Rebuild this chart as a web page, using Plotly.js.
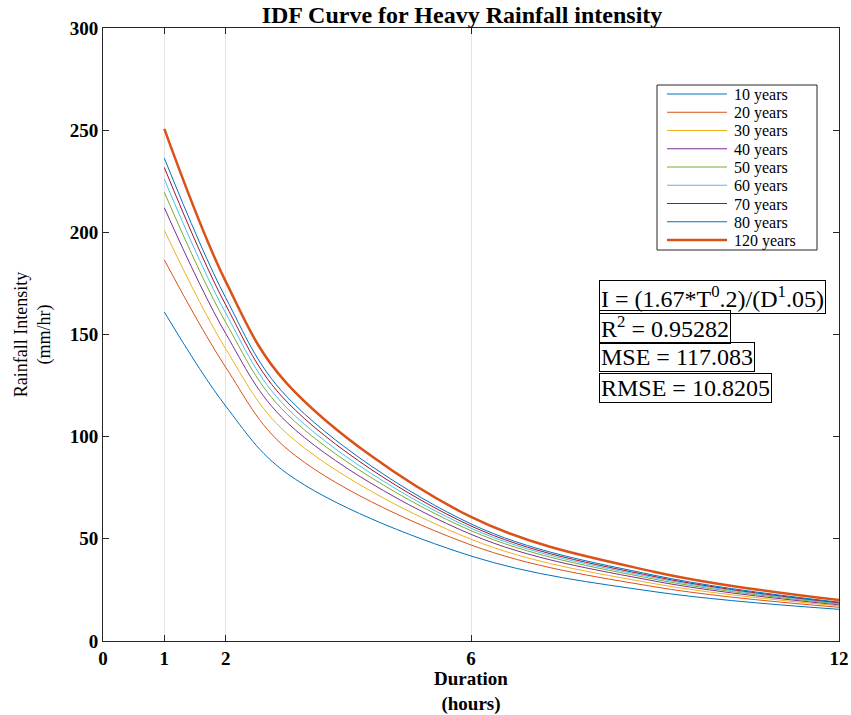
<!DOCTYPE html>
<html>
<head>
<meta charset="utf-8">
<script src="https://cdn.plot.ly/plotly-3.0.1.min.js"></script>
<style>html,body{margin:0;padding:0;background:#fff;}#chart{width:851px;height:715px;}</style>
</head>
<body>
<div id="chart"></div>
<script>
// ---- data ----
const durations = [1, 2, 3, 6, 9, 12];
const seriesNames = ["10 years", "20 years", "30 years", "40 years", "50 years", "60 years", "70 years", "80 years", "120 years"];
const i10  = [161.0, 115.0, 82.0, 41.6, 24.1, 15.5];
const i20  = [186.5, 134.0, 94.0, 47.0, 26.5, 16.5];
const i30  = [201.0, 143.0, 101.5, 49.8, 28.0, 17.2];
const i40  = [212.0, 150.5, 107.0, 52.2, 29.3, 17.7];
const i50  = [219.6, 156.0, 111.0, 54.0, 30.2, 18.1];
const i60  = [226.0, 160.5, 114.0, 55.2, 30.9, 18.4];
const i70  = [231.7, 164.5, 117.0, 56.3, 31.5, 18.7];
const i80  = [236.3, 168.0, 119.5, 57.3, 32.1, 19.0];
const i120 = [250.6, 176.0, 126.0, 60.7, 33.8, 20.0];
const xTicks = [0, 1, 2, 6, 12];
const yTicks = [0, 50, 100, 150, 200, 250, 300];
const statsLines = ["I = (1.67*T<sup>0</sup>.2)/(D<sup>1</sup>.05)", "R<sup>2</sup> = 0.95282", "MSE = 117.083", "RMSE = 10.8205"];

// ---- styles ----
const allSeries = [i10, i20, i30, i40, i50, i60, i70, i80, i120];
const colors = ["#0072BD", "#D95319", "#EDB120", "#7E2F8E", "#77AC30", "#4DBEEE", "#A2142F", "#0072BD", "#D95319"];
const widths = [1, 1, 1, 1, 1, 1, 1, 1, 2.5];
const FONT = "Liberation Serif, Times New Roman, serif";

const traces = allSeries.map((ys, k) => ({
  x: durations, y: ys, type: "scatter", mode: "lines",
  name: seriesNames[k], showlegend: false,
  line: {color: colors[k], width: widths[k], shape: "spline", smoothing: 1}
}));

// plot area in pixels
const L = 103, R = 839, T = 28, B = 641;
const px = v => (v - L) / (R - L);
const py = v => (B - v) / (B - T);

const shapes = [];
const annotations = [];
// manual legend
shapes.push({type: "rect", xref: "paper", yref: "paper", x0: px(657), x1: px(817), y0: py(250), y1: py(85),
  line: {color: "#262626", width: 1}, fillcolor: "white", layer: "above"});
seriesNames.forEach((nm, k) => {
  const yy = 94 + 18.25 * k;
  shapes.push({type: "line", xref: "paper", yref: "paper", x0: px(667), x1: px(727), y0: py(yy), y1: py(yy),
    line: {color: colors[k], width: widths[k]}, layer: "above"});
  annotations.push({xref: "paper", yref: "paper", x: px(732), y: py(yy + 1), xanchor: "left", yanchor: "middle",
    text: nm, showarrow: false, font: {family: FONT, size: 16, color: "#000"}});
});
// stats boxes
const statTops = [280, 310, 342, 373];
statsLines.forEach((t, k) => {
  annotations.push({xref: "paper", yref: "paper", x: px(599), y: py(statTops[k]), xanchor: "left", yanchor: "top",
    text: t, showarrow: false, align: "left", bordercolor: "#000", borderwidth: 1, borderpad: 1,
    font: {family: FONT, size: 24, color: "#000"}});
});

const layout = {
  width: 851, height: 715,
  margin: {l: L, r: 851 - R, t: T, b: 715 - B},
  paper_bgcolor: "#fff", plot_bgcolor: "#fff",
  font: {family: FONT, color: "#000"},
  title: {text: "<b>IDF Curve for Heavy Rainfall intensity</b>", font: {family: FONT, size: 24, color: "#000"},
    xref: "container", yref: "container", x: 462 / 851, y: 1 - 15 / 715, xanchor: "center", yanchor: "middle"},
  xaxis: {range: [0, 12], tickvals: xTicks, ticktext: xTicks.map(v => "<b>" + v + "</b>"),
    showgrid: true, gridcolor: "#e3e3e3", gridwidth: 1, zeroline: false,
    showline: true, linecolor: "#262626", linewidth: 1, mirror: "ticks",
    ticks: "inside", ticklen: 6, tickcolor: "#262626",
    tickfont: {family: FONT, size: 19, color: "#000"},
    title: {text: "<b>Duration</b><br><b>(hours)</b>", font: {family: FONT, size: 19, color: "#000"}, standoff: 8}},
  yaxis: {range: [0, 300], tickvals: yTicks, ticktext: yTicks.map(v => "<b>" + v + "</b>"),
    showgrid: false, zeroline: false,
    showline: true, linecolor: "#262626", linewidth: 1, mirror: "ticks",
    ticks: "inside", ticklen: 6, tickcolor: "#262626",
    tickfont: {family: FONT, size: 19, color: "#000"},
    title: {text: "Rainfall Intensity<br>(mm/hr)", font: {family: FONT, size: 18, color: "#000"}, standoff: 14}},
  shapes: shapes,
  annotations: annotations,
  showlegend: false
};

Plotly.newPlot("chart", traces, layout, {displayModeBar: false, staticPlot: true});
</script>
</body>
</html>
